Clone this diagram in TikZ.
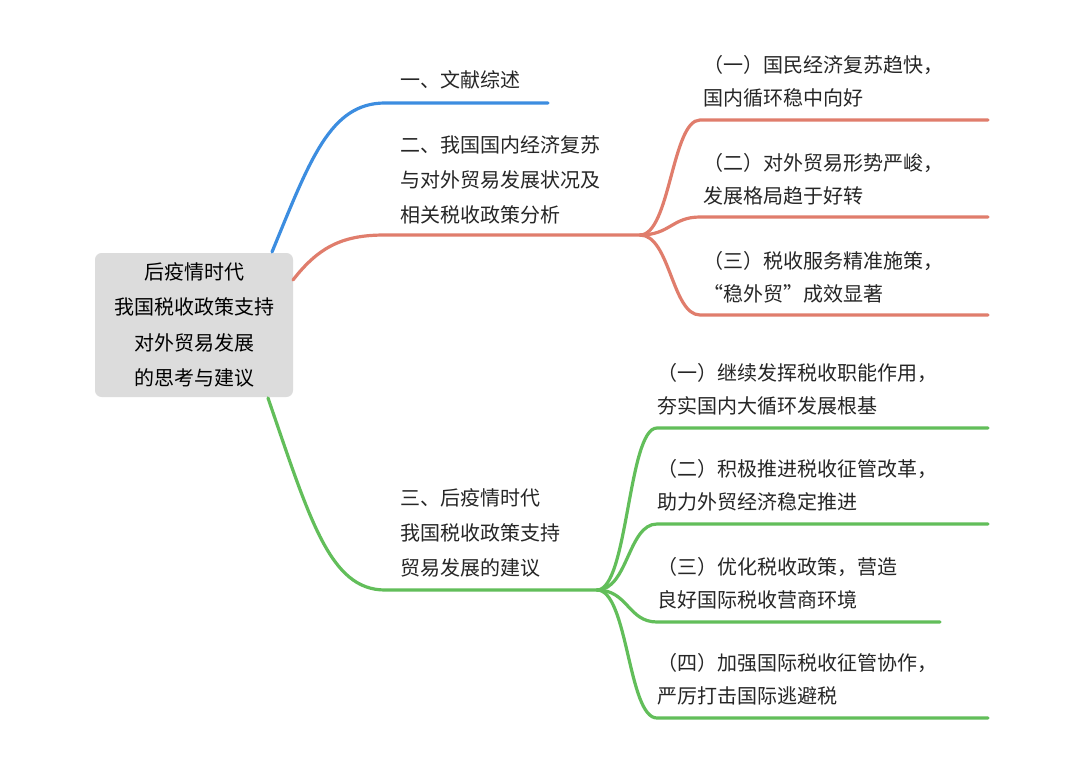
\documentclass[tikz,border=0pt]{standalone}
\usepackage{fontspec}
\setmainfont{Noto Sans CJK SC}
\begin{document}
\begin{tikzpicture}[x=0.75pt,y=-0.75pt,
  txt/.style={anchor=west,font=\fontsize{15}{18}\selectfont,text=black!85,inner sep=0pt},
  br/.style={line width=2.4pt,line cap=round},
  bl/.style={br,draw=blue!60!cyan!80!black},
  orb/.style={br,draw={rgb,255:red,224;green,125;blue,108}},
  grb/.style={br,draw={rgb,255:red,98;green,190;blue,90}}]
\definecolor{bluec}{RGB}{60,141,224}
\tikzset{bl/.style={br,draw=bluec}}
\useasboundingbox (0,0) rectangle (1080,763);
\fill[white] (0,0) rectangle (1080,763);
\node[fill={rgb,255:red,220;green,220;blue,220},rounded corners=5pt,minimum width=148.5pt,minimum height=108pt,align=center,font=\fontsize{15}{26.5}\selectfont,inner sep=0pt] (root) at (194,325) {后疫情时代\\我国税收政策支持\\对外贸易发展\\的思考与建议};
% coordinates
\coordinate (b0) at (272,252);
\coordinate (b1) at (385,103);
\coordinate (b2) at (548,103);
\coordinate (o0) at (293,280);
\coordinate (o1) at (385,235);
\coordinate (o2) at (640,235);
\coordinate (g0) at (268,398);
\coordinate (g1) at (385,590);
\coordinate (g2) at (597,590);
\draw[bl] (b0) .. controls (310,160) and (330,103) .. (b1) -- (b2);
\draw[orb] (o0) .. controls (320,245) and (345,235) .. (o1) -- (o2);
\draw[grb] (g0) .. controls (310,520) and (330,590) .. (g1) -- (g2);
\foreach \n/\y in {1/120,2/217,3/315}{
  \coordinate (oe\n) at (700,\y);
  \draw[orb] (o2) .. controls (670,235) and (672,\y) .. (oe\n) -- (988,\y);
}
\foreach \n/\y/\e in {1/428/988,2/524/988,3/622/940,4/718/988}{
  \coordinate (ge\n) at (657,\y);
  \draw[grb] (g2) .. controls (628,590) and (628,\y) .. (ge\n) -- (\e,\y);
}
\node[txt] (t1) at (400,80) {一、文献综述};
\node[txt,align=left,font=\fontsize{15}{26}\selectfont] (t2) at (400,180) {二、我国国内经济复苏\\与对外贸易发展状况及\\相关税收政策分析};
\node[txt,align=left,font=\fontsize{15}{26}\selectfont] (t3) at (400,533) {三、后疫情时代\\我国税收政策支持\\贸易发展的建议};
\node[txt,align=left,font=\fontsize{15}{25}\selectfont] (a1) at (703,81) {（一）国民经济复苏趋快，\\国内循环稳中向好};
\node[txt,align=left,font=\fontsize{15}{25}\selectfont] (a2) at (703,179) {（二）对外贸易形势严峻，\\发展格局趋于好转};
\node[txt,align=left,font=\fontsize{15}{25}\selectfont] (a3) at (703,277) {（三）税收服务精准施策，\\“稳外贸”成效显著};
\node[txt,align=left,font=\fontsize{15}{25}\selectfont] (c1) at (657,389) {（一）继续发挥税收职能作用，\\夯实国内大循环发展根基};
\node[txt,align=left,font=\fontsize{15}{25}\selectfont] (c2) at (657,485) {（二）积极推进税收征管改革，\\助力外贸经济稳定推进};
\node[txt,align=left,font=\fontsize{15}{25}\selectfont] (c3) at (657,583) {（三）优化税收政策，营造\\良好国际税收营商环境};
\node[txt,align=left,font=\fontsize{15}{25}\selectfont] (c4) at (657,679) {（四）加强国际税收征管协作，\\严厉打击国际逃避税};
\end{tikzpicture}
\end{document}
